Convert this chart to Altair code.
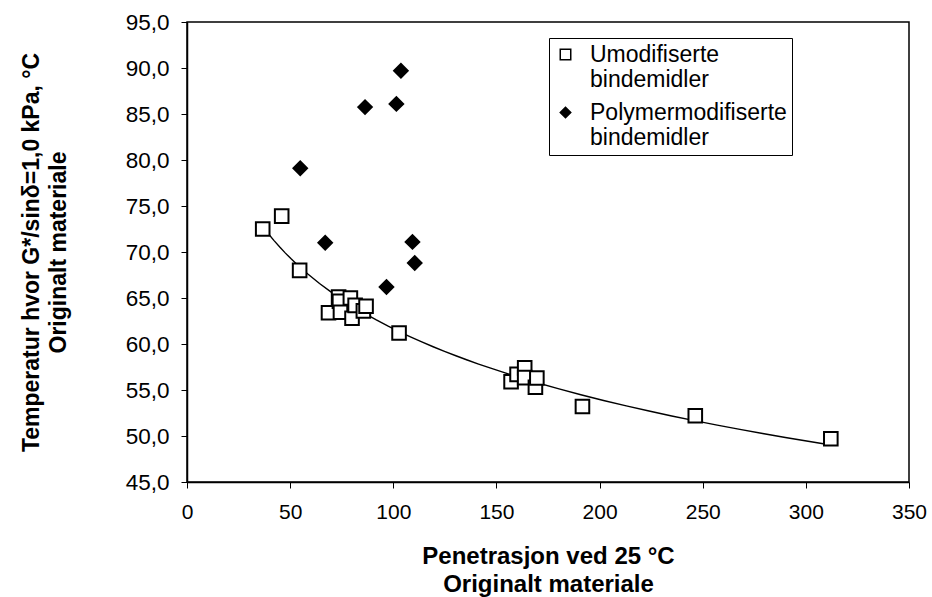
import altair as alt
import pandas as pd

# Unmodified binders (open squares)
umod_x = [36.7, 45.9, 54.6, 68.6, 73.5, 73.9, 74.4, 79.2, 80.0, 81.5, 85.5, 86.8,
          102.8, 157.1, 160.0, 163.7, 163.7, 168.9, 169.6, 191.7, 246.4, 312.1]
umod_y = [72.5, 73.9, 68.0, 63.4, 65.1, 64.65, 63.45, 65.0, 62.8, 64.2, 63.6, 64.1,
          61.2, 55.9, 56.7, 57.4, 56.35, 55.3, 56.3, 53.2, 52.2, 49.7]

# Polymer-modified binders (filled diamonds)
poly_x = [54.9, 67.0, 86.3, 96.7, 101.5, 103.7, 109.3, 110.4]
poly_y = [79.1, 71.0, 85.75, 66.2, 86.1, 89.7, 71.1, 68.8]

series_names = ["Umodifiserte bindemidler", "Polymermodifiserte bindemidler"]

df = pd.DataFrame({
    "x": umod_x + poly_x,
    "y": umod_y + poly_y,
    "serie": [series_names[0]] * len(umod_x) + [series_names[1]] * len(poly_x),
})

FONT = "Liberation Sans"

xscale = alt.Scale(domain=[0, 350], nice=False, zero=False)
yscale = alt.Scale(domain=[45, 95], nice=False, zero=False)

xaxis = alt.Axis(values=[0, 50, 100, 150, 200, 250, 300, 350],
                 title=["Penetrasjon ved 25 °C", "Originalt materiale"],
                 grid=False, tickSize=6, labelPadding=13, titlePadding=22,
                 labelFlush=False, labelFontSize=21, titleFontSize=24, titleLineHeight=28)
yaxis = alt.Axis(values=[45, 50, 55, 60, 65, 70, 75, 80, 85, 90, 95],
                 title=["Temperatur hvor G*/sinδ=1,0 kPa, °C", "Originalt materiale"],
                 grid=False, tickSize=6,
                 labelExpr="replace(format(datum.value, '.1f'), '.', ',')",
                 labelPadding=12, titlePadding=55, labelFlush=False,
                 labelFontSize=22.5, titleFontSize=23, titleLineHeight=27)

legend = alt.Legend(title=None, orient="none", legendX=362, legendY=16,
                    labelExpr="split(datum.label, ' ')",
                    labelBaseline="middle", labelFontSize=23,
                    labelFont=FONT, labelColor="black",
                    symbolSize=110, symbolStrokeWidth=1.5, symbolStrokeColor="black",
                    strokeColor="black", padding=5, rowPadding=9,
                    labelLimit=400, labelOffset=13)

points = alt.Chart(df).mark_point(filled=False, opacity=1, strokeWidth=2, stroke="black",
                                  size=185).encode(
    x=alt.X("x:Q", scale=xscale, axis=xaxis),
    y=alt.Y("y:Q", scale=yscale, axis=yaxis),
    shape=alt.Shape("serie:N", scale=alt.Scale(domain=series_names, range=["square", "diamond"]),
                    legend=legend),
    fill=alt.Fill("serie:N", scale=alt.Scale(domain=series_names, range=["white", "black"]),
                  legend=legend),
    stroke=alt.Stroke("serie:N", scale=alt.Scale(domain=series_names, range=["black", "black"]),
                      legend=legend),
)

trend = alt.Chart(df).transform_filter(
    alt.datum.serie == series_names[0]
).transform_regression("x", "y", method="log").mark_line(color="black", strokeWidth=1.4).encode(
    x=alt.X("x:Q", scale=xscale),
    y=alt.Y("y:Q", scale=yscale),
)

chart = alt.layer(trend, points).properties(
    width=722, height=460,
    autosize=alt.AutoSizeParams(type="none"),
    padding={"left": 187, "top": 22, "right": 23, "bottom": 115},
    background="white",
).configure_view(stroke="black", strokeWidth=1.5).configure_axis(
    labelFont=FONT, titleFont=FONT,
    labelColor="black", titleColor="black", domainColor="black", tickColor="black",
    domainWidth=1.5, titleFontWeight="bold",
)

chart.save("out.html", embed_options={"renderer": "svg", "actions": False})
